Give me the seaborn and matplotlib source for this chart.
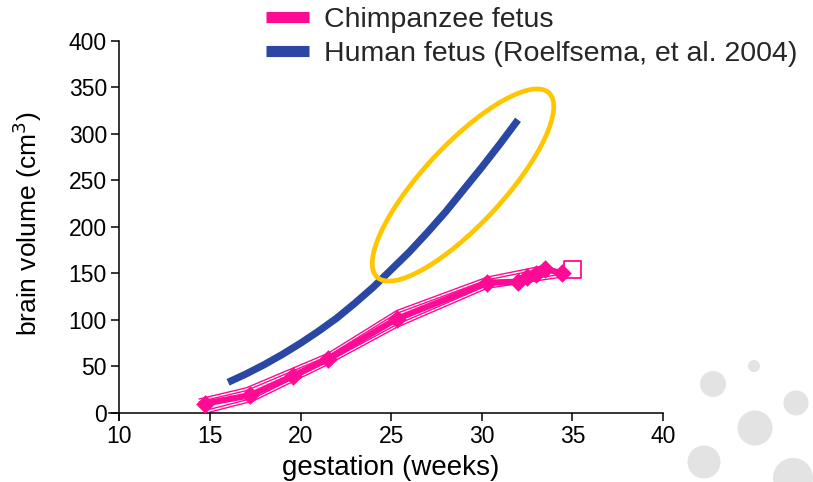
import matplotlib
matplotlib.use("Agg")
import matplotlib.pyplot as plt
import seaborn as sns
import pandas as pd
from matplotlib.lines import Line2D
from matplotlib.patches import Ellipse, Circle
from matplotlib.transforms import IdentityTransform

# Human fetal brain volume curve (Roelfsema et al. 2004)
human_weeks = [16, 17, 18, 19, 20, 21, 22, 23, 24, 25, 26, 27, 28, 29, 30, 31, 32]
human_volume = [33, 42, 52, 63, 75, 88, 102, 118, 135, 154, 173, 194, 216, 240, 264, 289, 315]

# Chimpanzee fetus measurements
chimp_weeks = [14.7, 17.2, 19.6, 21.5, 25.3, 30.3, 32.0, 32.5, 33.0, 33.5, 34.4]
chimp_volume = [10, 19, 40, 58, 101, 140, 141, 146, 149, 155, 150]

# Upper / lower traces around the chimpanzee series
chimp_upper_weeks = [14.4, 17.0, 21.5, 25.3, 30.3, 33.6]
chimp_upper_volume = [15, 27, 64, 110, 146, 159]
chimp_lower_weeks = [15.0, 17.4, 21.5, 25.3, 30.3, 34.4]
chimp_lower_volume = [1, 13, 52, 92, 134, 146]

# Later single observation (open square)
late_weeks = [35.0]
late_volume = [154]

x_ticks = [10, 15, 20, 25, 30, 35, 40]
y_ticks = [0, 50, 100, 150, 200, 250, 300, 350, 400]

legend_labels = ["Chimpanzee fetus", "Human fetus (Roelfsema, et al. 2004)"]

PINK = "#fe0b95"
BLUE = "#2a47a3"
GOLD = "#ffc600"
DISC = "#e3e3e3"

sns.set_theme(style="ticks")
plt.rcParams["font.family"] = ["Liberation Sans", "DejaVu Sans"]

W, H = 813, 482
fig = plt.figure(figsize=(W / 100, H / 100), dpi=100)
ax = fig.add_axes([109.4 / W, 1 - 419.5 / H, (663 - 109.4) / W, (419.5 - 40.7) / H])

human = pd.DataFrame({"weeks": human_weeks, "volume": human_volume})
chimp = pd.DataFrame({"weeks": chimp_weeks, "volume": chimp_volume})
upper = pd.DataFrame({"weeks": chimp_upper_weeks, "volume": chimp_upper_volume})
lower = pd.DataFrame({"weeks": chimp_lower_weeks, "volume": chimp_lower_volume})
late = pd.DataFrame({"weeks": late_weeks, "volume": late_volume})

# thin individual traces
for df, off in [(upper, 0), (lower, 0), (upper, -3), (lower, 3)]:
    d = df.copy()
    d["volume"] = d["volume"] + off
    sns.lineplot(data=d, x="weeks", y="volume", ax=ax, color=PINK,
                 lw=1.0, sort=False, estimator=None)

sns.lineplot(data=chimp, x="weeks", y="volume", ax=ax, color=PINK,
             lw=4.5, sort=False, estimator=None)
sns.scatterplot(data=chimp, x="weeks", y="volume", ax=ax, color=PINK,
                marker="D", s=90, edgecolor=PINK, linewidth=0, zorder=4)
sns.scatterplot(data=late, x="weeks", y="volume", ax=ax, marker="s", s=160,
                facecolor="none", edgecolor=PINK, linewidth=1.3, zorder=4)

sns.lineplot(data=human, x="weeks", y="volume", ax=ax, color=BLUE,
             lw=5.2, sort=False, estimator=None, solid_capstyle="butt")

ax.set_xlim(9.45, 40)
ax.set_ylim(-7, 400)
ax.spines["left"].set_position(("data", 10))
ax.spines["bottom"].set_position(("data", 0))
ax.spines["top"].set_visible(False)
ax.spines["right"].set_visible(False)
for s in ("left", "bottom"):
    ax.spines[s].set_linewidth(1.1)
    ax.spines[s].set_color("black")
ax.set_xticks(x_ticks)
ax.set_yticks(y_ticks)
ax.tick_params(axis="both", length=6, width=1.1, color="black",
               labelsize=16.5, labelcolor="black", pad=3)
ax.set_xlabel("gestation (weeks)", fontsize=20, color="black")
ax.set_ylabel("brain volume (cm$^3$)", fontsize=19, color="black")
# centre the axis titles on the drawn tick span
ax.xaxis.set_label_coords(0.5087, -0.095)
ax.yaxis.set_label_coords(-0.118, 0.516)

handles = [Line2D([], [], color=PINK, lw=8, solid_capstyle="butt"),
           Line2D([], [], color=BLUE, lw=8, solid_capstyle="butt")]
ax.legend(handles, legend_labels, loc="upper left",
          bbox_to_anchor=(266 / W, 1 - 7 / H), bbox_transform=fig.transFigure,
          frameon=False, borderpad=0, borderaxespad=0, fontsize=20.5,
          handlelength=1.5, handletextpad=0.55, labelspacing=0.28)

# highlight ring around the human curve
fig.add_artist(Ellipse((463, H - 185), 252, 80, angle=47, fill=False,
                       edgecolor=GOLD, lw=3.4, transform=IdentityTransform()))

# decorative discs
for cx, cy, r in [(754, 366, 6), (713, 384, 13), (796, 403, 12.5),
                  (755, 428, 17.5), (704, 462, 16.5), (793, 478, 20)]:
    fig.add_artist(Circle((cx, H - cy), r, color=DISC, lw=0,
                          transform=IdentityTransform()))

fig.savefig("out.png", dpi=100)
